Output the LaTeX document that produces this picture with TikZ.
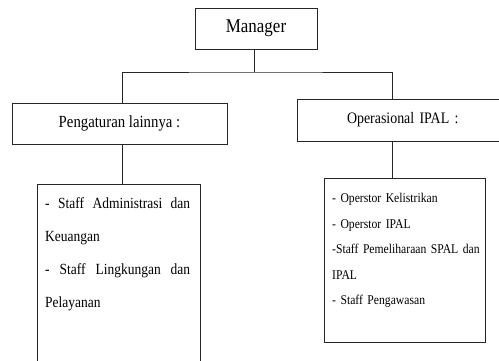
\documentclass[tikz,border=0pt]{standalone}
\usepackage{fontspec}
\setmainfont[FakeStretch=0.87]{Liberation Serif}
\usetikzlibrary{calc}
\tikzset{
	kotak/.style={draw=black!85, line width=0.9pt, fill=white, inner sep=0pt},
	garis/.style={draw=black!85, line width=0.9pt},
	isi/.style={inner sep=0pt, anchor=north west, text=black}
}

\begin{document}
\begin{tikzpicture}[x=1pt, y=-1pt]
			%%%%% START %%%%%
			
			\useasboundingbox (0, 0) rectangle (499, 360);
			
			\node[kotak, minimum width=122, minimum height=41, font=\fontsize{19.5}{22}\selectfont] (mgr) at (256, 28.5) {Manager};
			\node[kotak, minimum width=215, minimum height=41, font=\fontsize{17}{20}\selectfont] (peng) at (119.5, 123.5) {Pengaturan lainnya :};
			\node[kotak, minimum width=210, minimum height=42, font=\fontsize{16}{19}\selectfont, text width=200, align=left] (ops) at (402, 120) {\hspace*{45pt}Operasional IPAL :};
			
			\node[kotak, minimum width=163, minimum height=200] (daftarL) at (118.5, 284) {};
			\node[kotak, minimum width=161, minimum height=164] (daftarR) at (404.5, 260) {};
			
			\node[isi, text width=145, align=justify, font=\fontsize{15.5}{33}\selectfont] (stafL) at (45, 197.5)
			{- Staff Administrasi dan\linebreak Keuangan\\- Staff Lingkungan dan\linebreak Pelayanan};
			\node[isi, text width=150, align=left, font=\fontsize{13.4}{25.5}\selectfont] (stafR) at (332, 193)
			{- Operstor Kelistrikan\\- Operstor IPAL\\-Staff Pemeliharaan SPAL dan\\IPAL\\- Staff Pengawasan};
			
			\coordinate (bus) at (254, 72);
			\draw[garis] (mgr.south -| bus) -- (bus);
			\draw[garis] (peng.north -| 122, 0) |- (bus) -| (392, 0 |- ops.north);
			\draw[garis] (peng.south -| 122, 0) -- (daftarL.north -| 122, 0);
			\draw[garis] (ops.south -| 392, 0) -- (daftarR.north -| 392, 0);
			
			%%%%% END %%%%%
\end{tikzpicture}
\end{document}
